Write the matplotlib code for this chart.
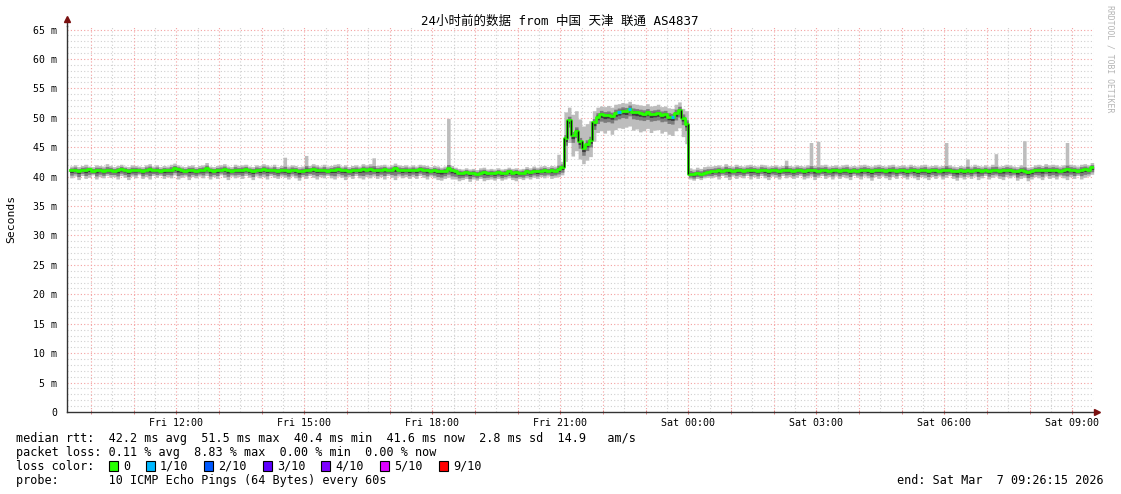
"""SmokePing style latency graph: 24h of median RTT with smoke bands."""

import numpy as np
import matplotlib

matplotlib.use("Agg")
import matplotlib.pyplot as plt  # noqa: E402
from matplotlib.patches import Rectangle  # noqa: E402

W, H = 1121, 494
MONO = ["DejaVu Sans Mono", "Noto Sans CJK SC"]

TITLE = "24小时前的数据 from 中国 天津 联通 AS4837"
Y_LABEL = "Seconds"
CREDIT = "RRDTOOL / TOBI OETIKER"

# time axis, hours since Fri 00:00
T_START = 9.4375          # Fri 09:26:15
T_END = 33.4375           # Sat 09:26:15
SAMPLE_START = 9.5        # first 5 min sample, Fri 09:30
STEP_MIN = 5

X_TICKS = [12, 15, 18, 21, 24, 27, 30, 33]
X_LABELS = ["Fri 12:00", "Fri 15:00", "Fri 18:00", "Fri 21:00",
            "Sat 00:00", "Sat 03:00", "Sat 06:00", "Sat 09:00"]
Y_TICKS = [0, 5, 10, 15, 20, 25, 30, 35, 40, 45, 50, 55, 60, 65]
Y_LABELS = ["0", "5 m", "10 m", "15 m", "20 m", "25 m", "30 m", "35 m",
            "40 m", "45 m", "50 m", "55 m", "60 m", "65 m"]

# median rtt in ms, one row per hour (12 x 5 min), rows start at hh:30
MEDIAN = [
    41.1, 41.2, 41.0, 41.2, 41.1, 41.3, 41.0, 41.1, 41.2, 41.0, 41.1, 41.2,
    41.0, 41.1, 41.3, 41.2, 41.0, 41.1, 41.2, 41.1, 41.0, 41.2, 41.3, 41.1,
    41.2, 41.0, 41.1, 41.1, 41.2, 41.4, 41.3, 41.1, 41.0, 41.2, 41.1, 41.0,
    41.1, 41.2, 41.4, 41.1, 41.0, 41.1, 41.2, 41.3, 41.1, 41.0, 41.2, 41.1,
    41.2, 41.3, 41.1, 41.0, 41.2, 41.1, 41.3, 41.2, 41.1, 41.2, 41.0, 41.1,
    41.1, 41.0, 41.2, 41.1, 40.9, 41.0, 41.2, 41.1, 41.3, 41.2, 41.1, 41.2,
    41.0, 41.1, 41.2, 41.3, 41.1, 41.2, 41.0, 41.1, 41.2, 41.1, 41.3, 41.2,
    41.3, 41.2, 41.1, 41.2, 41.3, 41.1, 41.2, 41.4, 41.2, 41.1, 41.2, 41.1,
    41.2, 41.1, 41.3, 41.2, 41.1, 41.0, 41.1, 41.0, 40.9, 41.0, 41.4, 41.1,
    40.9, 40.7, 40.6, 40.8, 40.6, 40.7, 40.5, 40.7, 40.8, 40.6, 40.7, 40.6,
    40.8, 40.6, 40.7, 40.9, 40.7, 40.8, 40.6, 40.7, 40.9, 40.8, 41.0, 40.9,
    41.0, 41.1, 41.0, 41.1, 41.0, 41.3, 41.6, 46.5, 49.6, 47.0, 47.8, 46.0,
    44.8, 45.6, 46.2, 49.2, 50.2, 50.6, 50.4, 50.5, 50.3, 50.8, 51.0, 51.2,
    51.1, 51.5, 51.0, 50.9, 50.8, 50.7, 50.9, 50.6, 50.7, 50.8, 50.5, 50.6,
    50.2, 50.1, 50.8, 51.3, 50.0, 49.0, 40.5, 40.4, 40.6, 40.5, 40.7, 40.8,
    40.9, 41.0, 41.1, 41.0, 41.2, 41.1, 41.0, 41.2, 41.1, 41.0, 41.1, 41.2,
    41.1, 41.0, 41.2, 41.1, 41.0, 41.1, 41.2, 41.0, 41.1, 41.2, 41.1, 41.0,
    41.2, 41.1, 41.0, 41.1, 41.2, 41.1, 41.0, 41.1, 41.2, 41.0, 41.1, 41.1,
    41.0, 41.1, 41.2, 41.0, 41.1, 41.0, 41.1, 41.2, 41.1, 41.0, 41.1, 41.2,
    41.1, 41.0, 41.1, 41.2, 41.0, 41.1, 41.1, 41.0, 41.2, 41.1, 41.0, 41.1,
    41.2, 41.0, 41.1, 41.1, 41.0, 41.1, 41.2, 41.1, 41.0, 40.9, 41.1, 41.0,
    41.1, 41.0, 41.2, 41.1, 41.0, 41.1, 41.0, 41.2, 41.1, 41.0, 41.1, 41.2,
    41.1, 41.0, 40.9, 41.1, 41.0, 40.8, 40.9, 41.1, 41.2, 41.1, 41.2, 41.1,
    41.2, 41.1, 41.0, 41.1, 41.3, 41.2, 41.1, 41.0, 41.2, 41.3, 41.2, 41.6,
]

# fastest ping per sample (bottom of smoke)
PING_LO = [
    39.8, 40.1, 39.5, 40.2, 39.7, 39.9, 40.3, 39.6, 40.0, 39.8, 40.2, 39.9,
    40.0, 39.6, 40.2, 39.9, 39.5, 40.1, 39.8, 40.3, 39.7, 40.0, 39.6, 40.2,
    39.9, 40.2, 39.7, 40.0, 39.8, 40.3, 39.6, 39.9, 40.1, 39.5, 40.0, 39.8,
    40.1, 39.8, 40.2, 39.6, 40.0, 39.7, 40.3, 39.9, 39.5, 40.1, 39.8, 40.0,
    39.7, 40.2, 39.9, 39.5, 40.1, 39.8, 40.0, 39.6, 40.2, 39.9, 39.7, 40.1,
    39.9, 39.6, 40.1, 39.8, 39.4, 40.0, 39.7, 40.2, 39.9, 39.6, 40.0, 39.8,
    40.2, 39.8, 39.6, 40.1, 39.9, 39.5, 40.0, 39.7, 40.2, 39.8, 39.6, 40.0,
    39.8, 40.1, 39.7, 40.0, 39.6, 40.2, 39.9, 39.5, 40.1, 39.8, 40.0, 39.7,
    40.0, 39.7, 40.2, 39.9, 39.6, 40.1, 39.8, 39.5, 39.4, 39.7, 39.9, 39.6,
    39.6, 39.3, 39.5, 39.7, 39.2, 39.6, 39.4, 39.7, 39.3, 39.5, 39.6, 39.4,
    39.7, 39.4, 39.6, 39.8, 39.5, 39.3, 39.7, 39.5, 39.8, 39.6, 39.9, 39.7,
    40.0, 39.8, 40.1, 39.7, 39.9, 40.0, 40.3, 42.6, 45.8, 43.5, 44.4, 43.0,
    42.2, 42.8, 43.4, 46.0, 47.5, 47.8, 47.4, 47.9, 47.2, 48.0, 48.3, 48.2,
    48.4, 48.6, 47.9, 48.1, 47.6, 47.8, 48.2, 47.5, 47.9, 48.0, 47.4, 47.7,
    47.2, 47.0, 47.8, 48.3, 46.8, 45.6, 39.6, 39.4, 39.7, 39.5, 39.8, 39.9,
    39.8, 40.0, 39.6, 40.2, 39.9, 39.5, 40.1, 39.7, 40.0, 39.8, 40.2, 39.6,
    40.0, 39.7, 40.2, 39.8, 39.5, 40.1, 39.9, 39.6, 40.2, 39.8, 40.0, 39.7,
    39.9, 40.2, 39.6, 39.8, 40.1, 39.5, 39.9, 40.2, 39.7, 40.0, 39.6, 40.1,
    39.7, 40.0, 39.8, 39.5, 40.2, 39.9, 39.6, 40.1, 39.8, 39.4, 40.0, 39.7,
    40.1, 39.8, 39.5, 40.0, 39.7, 40.2, 39.9, 39.6, 40.1, 39.8, 39.5, 40.0,
    39.8, 39.5, 40.0, 39.7, 40.1, 39.6, 39.9, 40.2, 39.7, 39.4, 39.9, 39.6,
    40.0, 39.7, 40.1, 39.5, 39.8, 40.2, 39.6, 39.9, 40.1, 39.7, 39.5, 40.0,
    39.8, 40.1, 39.4, 39.7, 39.9, 39.3, 39.6, 40.0, 39.8, 39.5, 40.1, 39.7,
    39.9, 39.6, 40.1, 39.8, 39.5, 40.0, 39.7, 40.2, 39.6, 39.9, 40.1, 40.4,
]

# slowest ping per sample (top of smoke)
PING_HI = [
    41.8, 42.0, 41.7, 41.9, 42.1, 41.8, 41.7, 42.0, 41.9, 41.8, 42.2, 41.9,
    41.7, 41.9, 42.1, 41.8, 41.7, 42.0, 41.9, 41.8, 41.7, 42.0, 42.2, 41.8,
    42.0, 41.7, 41.9, 41.8, 42.1, 42.3, 42.0, 41.8, 41.7, 41.9, 42.0, 41.7,
    41.9, 42.0, 42.4, 41.8, 41.7, 41.9, 42.0, 42.2, 41.8, 41.7, 42.1, 41.9,
    42.0, 42.1, 41.8, 41.7, 42.0, 41.9, 42.2, 42.0, 41.8, 42.1, 41.7, 41.9,
    43.3, 41.8, 42.0, 41.9, 41.7, 41.8, 43.6, 41.9, 42.2, 42.0, 41.8, 42.1,
    41.8, 41.9, 42.1, 42.2, 41.8, 42.0, 41.7, 41.9, 42.0, 41.8, 42.2, 42.0,
    42.2, 43.2, 41.9, 42.0, 42.1, 41.8, 42.0, 42.3, 42.0, 41.9, 42.0, 41.8,
    42.0, 41.8, 42.1, 42.0, 41.9, 41.7, 41.9, 41.8, 41.6, 41.8, 49.9, 41.9,
    41.6, 41.4, 41.3, 41.5, 41.3, 41.4, 41.2, 41.5, 41.6, 41.3, 41.4, 41.3,
    41.5, 41.3, 41.4, 41.6, 41.4, 41.5, 41.3, 41.4, 41.7, 41.5, 41.8, 41.6,
    41.8, 41.9, 41.7, 41.9, 41.8, 43.8, 42.6, 51.0, 51.8, 50.6, 51.2, 49.8,
    48.6, 49.0, 49.5, 51.2, 51.8, 52.0, 51.9, 52.1, 51.8, 52.3, 52.4, 52.6,
    52.5, 52.8, 52.4, 52.3, 52.2, 52.1, 52.4, 52.0, 52.1, 52.3, 51.9, 52.0,
    51.7, 51.6, 52.3, 52.7, 51.6, 51.2, 41.5, 41.3, 41.6, 41.4, 41.7, 41.8,
    41.8, 41.9, 42.0, 41.8, 42.2, 41.9, 41.8, 42.1, 41.9, 41.8, 42.0, 42.1,
    41.9, 41.8, 42.1, 42.0, 41.8, 41.9, 42.0, 41.8, 41.9, 42.8, 41.9, 41.8,
    42.0, 41.9, 41.8, 42.0, 45.8, 41.9, 46.0, 42.0, 42.1, 41.8, 41.9, 42.0,
    41.8, 42.0, 42.1, 41.8, 41.9, 41.8, 42.0, 42.1, 41.9, 41.8, 42.0, 42.1,
    41.9, 41.8, 42.0, 42.1, 41.8, 41.9, 42.0, 41.8, 42.1, 41.9, 41.8, 42.0,
    42.1, 41.8, 41.9, 42.0, 41.8, 41.9, 45.8, 42.0, 41.8, 41.7, 41.9, 41.8,
    43.0, 41.8, 42.1, 41.9, 41.8, 42.0, 41.8, 42.1, 43.9, 41.8, 41.9, 42.1,
    42.0, 41.8, 41.7, 42.0, 46.1, 41.6, 41.7, 42.0, 42.1, 41.9, 42.2, 42.0,
    42.1, 42.0, 41.8, 42.0, 45.8, 42.1, 42.0, 41.8, 42.1, 42.2, 42.0, 42.4,
]

# samples that lost pings (hour of sample, lost pings out of 10)
LOSS_HOURS = [22.333, 22.583, 23.583]
LOSS_PINGS = [1, 1, 1]

LOSS_KEYS = ["0", "1/10", "2/10", "3/10", "4/10", "5/10", "9/10"]
LOSS_COLORS = ["#26ff00", "#00b8ff", "#0059ff", "#5e00ff", "#7e00ff",
               "#dd00ff", "#ff0000"]

LEGEND_RTT = ("median rtt:  42.2 ms avg  51.5 ms max  40.4 ms min  "
              "41.6 ms now  2.8 ms sd  14.9   am/s")
LEGEND_LOSS = "packet loss: 0.11 % avg  8.83 % max  0.00 % min  0.00 % now"
LEGEND_PROBE = "probe:       10 ICMP Echo Pings (64 Bytes) every 60s"
END_TEXT = "end: Sat Mar  7 09:26:15 2026"


def fx(x):
    return x / W


def fy(y):
    return 1 - y / H


def main():
    med = np.array(MEDIAN)
    lo = np.array(PING_LO)
    hi = np.array(PING_HI)
    dt = STEP_MIN / 60.0
    t = SAMPLE_START + np.arange(len(med)) * dt
    te = np.append(t, t[-1] + dt)

    def ext(a):
        return np.append(a, a[-1])

    loss = np.zeros(len(med), dtype=int)
    for h, n in zip(LOSS_HOURS, LOSS_PINGS):
        loss[int(round((h - SAMPLE_START) / dt))] = n

    fig = plt.figure(figsize=(W / 100, H / 100), dpi=100)
    fig.patch.set_facecolor("white")
    ax = fig.add_axes([fx(67), fy(412), fx(1094 - 67), (412 - 26) / H])
    ax.set_facecolor("white")
    ax.set_xlim(T_START, T_START + (1094 - 67) / 42.667)
    ax.set_ylim(0, 65.6)

    # grid
    for v in range(1, 66):
        major = v % 5 == 0
        ax.axhline(v, color="#f4a0a0" if major else "#d0d0d0", lw=0.8,
                   ls=(0, (1, 2)), zorder=0)
    for h in np.arange(10, 33.6, 0.5):
        major = h % 1 == 0
        ax.axvline(h, color="#f4a0a0" if major else "#d0d0d0", lw=0.8,
                   ls=(0, (1, 2)), zorder=0)

    # smoke
    up = np.minimum(hi - med, 1.2)
    dn = np.minimum(med - lo, 1.8)
    ax.fill_between(te, ext(lo), ext(hi), step="post", color="#bdbdbd",
                    lw=0, zorder=1)
    ax.fill_between(te, ext(med - dn * 0.65), ext(med + up * 0.55),
                    step="post", color="#7c7c7c", lw=0, zorder=2)
    ax.fill_between(te, ext(med - dn * 0.3), ext(med + up * 0.2),
                    step="post", color="#3c3c3c", lw=0, zorder=3)

    # median: green steps, black risers on big jumps, loss colour per sample
    ax.plot(te, ext(med), drawstyle="steps-post", color=LOSS_COLORS[0],
            lw=2.0, zorder=4)
    jump = np.abs(np.diff(med)) > 1.0
    ax.vlines(t[1:][jump], med[:-1][jump], med[1:][jump], color="#111111",
              lw=1.0, zorder=5)
    lossy = loss > 0
    ax.hlines(med[lossy], t[lossy], t[lossy] + dt,
              colors=[LOSS_COLORS[n] for n in loss[lossy]], lw=2.2, zorder=6)

    # axes
    for side in ("top", "right"):
        ax.spines[side].set_visible(False)
    for side in ("left", "bottom"):
        ax.spines[side].set_color("#333333")
        ax.spines[side].set_linewidth(1.0)
    ax.plot([T_START], [66.8], marker="^", ms=4, color="#7a1010",
            clip_on=False, zorder=6)
    ax.plot([T_START, T_START], [65.6, 66.6], color="#333333", lw=1,
            clip_on=False)
    ax.plot([ax.get_xlim()[1] + 0.06], [0], marker=">", ms=4,
            color="#7a1010", clip_on=False, zorder=6)

    ax.set_xticks(X_TICKS)
    ax.set_xticklabels(X_LABELS, family="DejaVu Sans Mono", fontsize=7.2)
    ax.set_xticks(np.arange(10, 34, 1), minor=True)
    ax.tick_params(axis="x", which="major", length=3, direction="inout",
                   color="#e07070", pad=3)
    ax.tick_params(axis="x", which="minor", length=3, direction="inout",
                   color="#e07070")
    ax.set_yticks(Y_TICKS)
    ax.set_yticklabels(Y_LABELS, family="DejaVu Sans Mono", fontsize=7.1)
    ax.tick_params(axis="y", length=0, pad=7)

    # texts
    fig.text(fx(560), fy(21), TITLE, ha="center", va="center", fontsize=9,
             family=MONO)
    fig.text(fx(11), fy(219), Y_LABEL, rotation=90, ha="center", va="center",
             fontsize=8.2, family="DejaVu Sans Mono")
    fig.text(fx(1110), fy(5), CREDIT, rotation=270, ha="center", va="top",
             fontsize=5.9, family="DejaVu Sans Mono", color="#b4b4b4")

    fig.text(fx(16), fy(438), LEGEND_RTT, va="center", fontsize=8.5,
             family="DejaVu Sans Mono")
    fig.text(fx(16), fy(452), LEGEND_LOSS, va="center", fontsize=8.5,
             family="DejaVu Sans Mono")
    fig.text(fx(16), fy(466), "loss color:", va="center", fontsize=8.5,
             family="DejaVu Sans Mono")
    box_x = [109, 146, 204, 263, 321, 380, 439]
    for bx, key, col in zip(box_x, LOSS_KEYS, LOSS_COLORS):
        fig.patches.append(Rectangle((fx(bx), fy(471)), 9 / W, 10 / H,
                                     transform=fig.transFigure,
                                     facecolor=col, edgecolor="black",
                                     lw=0.8))
        fig.text(fx(bx + 14), fy(466), key, va="center", fontsize=8.5,
                 family="DejaVu Sans Mono")
    fig.text(fx(16), fy(480), LEGEND_PROBE, va="center", fontsize=8.5,
             family="DejaVu Sans Mono")
    fig.text(fx(1104), fy(480), END_TEXT, ha="right", va="center",
             fontsize=8.5, family="DejaVu Sans Mono")

    fig.savefig("out.png", dpi=100, facecolor="white")
    plt.close(fig)


if __name__ == "__main__":
    main()
